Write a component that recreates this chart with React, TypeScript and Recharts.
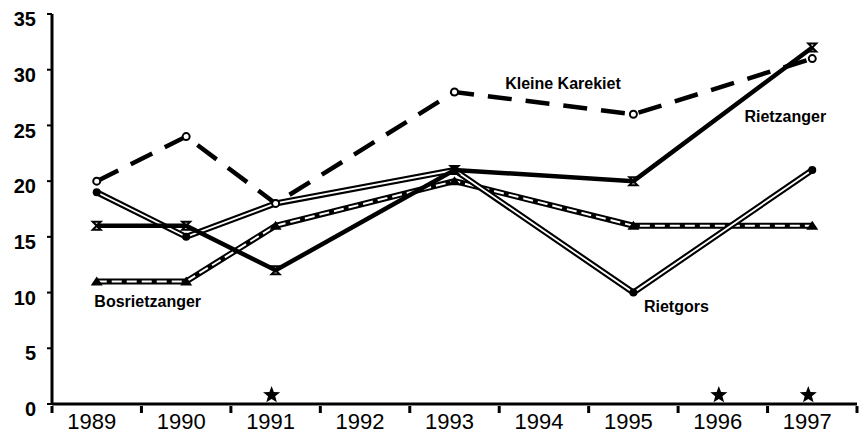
import {
  ComposedChart,
  Line,
  ReferenceDot,
  XAxis,
  YAxis,
} from 'recharts'

const years = ['1989', '1990', '1991', '1992', '1993', '1994', '1995', '1996', '1997']

// breeding territories per year; no counts in 1992, 1994 and 1996
const kleineKarekiet = [20, 24, 18, null, 28, null, 26, null, 31]
const rietzanger = [16, 16, 12, null, 21, null, 20, null, 32]
const rietgors = [19, 15, 18, null, 21, null, 10, null, 21]
const bosrietzanger = [11, 11, 16, null, 20, null, 16, null, 16]

// years marked with a star just above the axis
const marked = [null, null, 0.8, null, null, null, null, 0.8, 0.8]

const yTicks = [0, 5, 10, 15, 20, 25, 30, 35]

const data = years.map((year, i) => ({
  year,
  kleineKarekiet: kleineKarekiet[i],
  rietzanger: rietzanger[i],
  rietgors: rietgors[i],
  bosrietzanger: bosrietzanger[i],
  marked: marked[i],
}))

const FONT = '"Liberation Sans", Arial, sans-serif'
const INK = '#000000'

function XTick(props: any) {
  const { x, y, payload, index } = props
  const half = payload.offset ?? 0
  const isLast = index === years.length - 1
  return (
    <g>
      <line x1={x - half} x2={x - half} y1={y - 6} y2={y + 1} stroke={INK} strokeWidth={3} />
      {isLast && (
        <line x1={x + half} x2={x + half} y1={y - 6} y2={y + 1} stroke={INK} strokeWidth={3} />
      )}
      <text x={x - 5} y={y + 17} textAnchor="middle" fontFamily={FONT} fontSize={22} fill={INK}>
        {payload.value}
      </text>
    </g>
  )
}

function OpenCircle(props: any) {
  const { cx, cy, value } = props
  if (value == null || cx == null) return <g />
  return <circle cx={cx} cy={cy} r={3.5} fill="#fff" stroke={INK} strokeWidth={2} />
}

function Cross(props: any) {
  const { cx, cy, value } = props
  if (value == null || cx == null) return <g />
  return (
    <path
      d={`M${cx - 4},${cy - 4} L${cx + 4},${cy - 4} L${cx - 4},${cy + 4} L${cx + 4},${cy + 4} Z`}
      fill="none"
      stroke={INK}
      strokeWidth={2}
    />
  )
}

function FilledDot(props: any) {
  const { cx, cy, value } = props
  if (value == null || cx == null) return <g />
  return <circle cx={cx} cy={cy} r={4} fill={INK} />
}

function Triangle(props: any) {
  const { cx, cy, value } = props
  if (value == null || cx == null) return <g />
  return <path d={`M${cx},${cy - 5} L${cx + 6},${cy + 4} L${cx - 6},${cy + 4} Z`} fill={INK} />
}

function Star(props: any) {
  const { cx, cy, value } = props
  if (value == null || cx == null) return <g />
  const pts: string[] = []
  for (let k = 0; k < 10; k++) {
    const r = k % 2 === 0 ? 9 : 3.8
    const a = -Math.PI / 2 + (k * Math.PI) / 5
    pts.push(`${cx - 4 + r * Math.cos(a)},${cy + r * Math.sin(a)}`)
  }
  return <polygon points={pts.join(' ')} fill={INK} />
}

function seriesLabel(text: string, dx: number) {
  return (props: any) => (
    <text
      x={props.cx + dx}
      y={props.cy}
      textAnchor="middle"
      dominantBaseline="central"
      fontFamily={FONT}
      fontWeight="bold"
      fontSize={16}
      fill={INK}
    >
      {text}
    </text>
  )
}

export default function App() {
  return (
    <div style={{ position: 'absolute', left: 0, top: 0, background: '#fff' }}>
      <ComposedChart
        width={859}
        height={435}
        data={data}
        margin={{ top: 14, right: 2, bottom: 0, left: 0 }}
      >
        <XAxis
          dataKey="year"
          scale="band"
          tick={<XTick />}
          tickLine={false}
          axisLine={{ stroke: INK, strokeWidth: 3 }}
          interval={0}
          height={31}
        />
        <YAxis
          domain={[0, 35]}
          ticks={yTicks}
          allowDataOverflow
          width={52}
          tickSize={5}
          tickMargin={11}
          tickLine={{ stroke: INK, strokeWidth: 2 }}
          axisLine={{ stroke: INK, strokeWidth: 3 }}
          tick={{ fill: INK, fontSize: 20, fontWeight: 'bold', fontFamily: FONT, dy: 5 }}
        />
        <Line
          dataKey="bosrietzanger"
          stroke={INK}
          strokeWidth={6}
          connectNulls
          dot={<Triangle />}
          isAnimationActive={false}
        />
        <Line
          dataKey="bosrietzanger"
          stroke="#fff"
          strokeWidth={2}
          strokeDasharray="10 5"
          connectNulls
          dot={false}
          isAnimationActive={false}
        />
        <Line
          dataKey="rietgors"
          stroke={INK}
          strokeWidth={6}
          connectNulls
          dot={<FilledDot />}
          isAnimationActive={false}
        />
        <Line
          dataKey="rietgors"
          stroke="#fff"
          strokeWidth={1.8}
          connectNulls
          dot={false}
          isAnimationActive={false}
        />
        <Line
          dataKey="rietzanger"
          stroke={INK}
          strokeWidth={4.5}
          connectNulls
          dot={<Cross />}
          isAnimationActive={false}
        />
        <Line
          dataKey="kleineKarekiet"
          stroke={INK}
          strokeWidth={4.5}
          strokeDasharray="24 14"
          connectNulls
          dot={<OpenCircle />}
          isAnimationActive={false}
        />
        <Line
          dataKey="marked"
          stroke="none"
          dot={<Star />}
          isAnimationActive={false}
        />
        <ReferenceDot x="1994" y={28.8} r={0} shape={seriesLabel('Kleine Karekiet', 19)} />
        <ReferenceDot x="1997" y={25.8} r={0} shape={seriesLabel('Rietzanger', -27)} />
        <ReferenceDot x="1989" y={9.2} r={0} shape={seriesLabel('Bosrietzanger', 51)} />
        <ReferenceDot x="1995" y={8.75} r={0} shape={seriesLabel('Rietgors', 43)} />
      </ComposedChart>
    </div>
  )
}
